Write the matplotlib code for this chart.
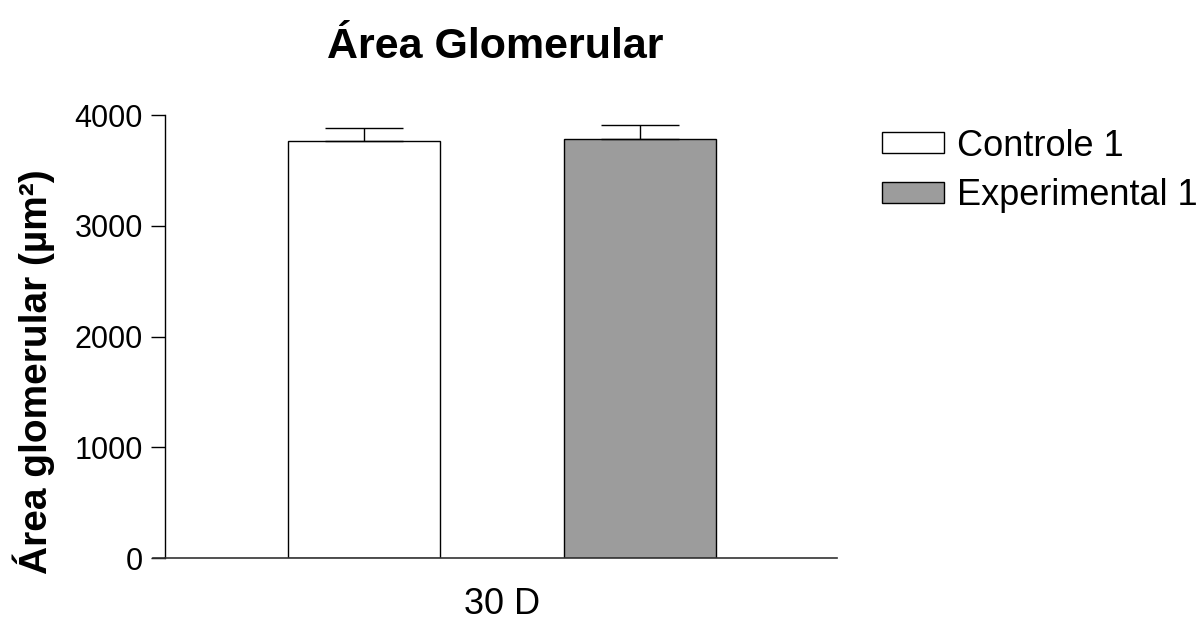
import matplotlib
matplotlib.use("Agg")
import matplotlib.pyplot as plt
from matplotlib.patches import Patch
from matplotlib.lines import Line2D

plt.rcParams['font.family'] = ['Liberation Sans', 'DejaVu Sans']

group_label = ["30 D"]
series = ["Controle 1", "Experimental 1"]
means = [3765, 3783]
errors = [118, 127]
colors = ["white", "#9c9c9c"]
yticks = [0, 1000, 2000, 3000, 4000]

fig = plt.figure(figsize=(12, 6.21), dpi=100)
ax = fig.add_axes([0.1375, 0.1014, 0.56, 0.7134])

positions = [-0.5, 0.5]
for pos, m, e, c in zip(positions, means, errors, colors):
    ax.bar(pos, m, width=0.55, color=c, edgecolor="black", linewidth=1.0, zorder=2)
    ax.errorbar(pos, m, yerr=[[0], [e]], color="black", capsize=28,
                elinewidth=1.0, capthick=1.0, fmt="none", zorder=3)

ax.set_xlim(-1.221, 1.214)
ax.set_ylim(0, 4000)
ax.set_yticks(yticks)
ax.set_yticklabels([str(t) for t in yticks], fontsize=22)
ax.set_xticks([0])
ax.set_xticklabels(group_label, fontsize=26)
ax.tick_params(axis='x', length=0, pad=21)
ax.tick_params(axis='y', length=10, width=1.0, pad=6)
for s in ["top", "right"]:
    ax.spines[s].set_visible(False)
ax.spines["left"].set_linewidth(1.0)
ax.spines["bottom"].set_linewidth(1.2)
ax.spines["bottom"].set_color("#333333")
ax.add_line(Line2D([-0.018, 0], [0, 0], transform=ax.transAxes, color="#333333",
                   linewidth=1.2, clip_on=False))

ax.set_ylabel("Área glomerular (µm²)", fontsize=28, fontweight="bold")
ax.yaxis.set_label_coords(-0.163, 0.42)
fig.text(0.4125, 0.925, "Área Glomerular", ha="center", va="center",
         fontsize=31, fontweight="bold")

handles = [Patch(facecolor=c, edgecolor="black", linewidth=1.0) for c in colors]
fig.legend(handles, series, loc="upper left", bbox_to_anchor=(0.735, 0.793),
           frameon=False, fontsize=26, handlelength=1.72, handleheight=0.53,
           handletextpad=0.36, labelspacing=0.4, borderaxespad=0, borderpad=0)

fig.savefig("out.png", dpi=100, facecolor="white")
